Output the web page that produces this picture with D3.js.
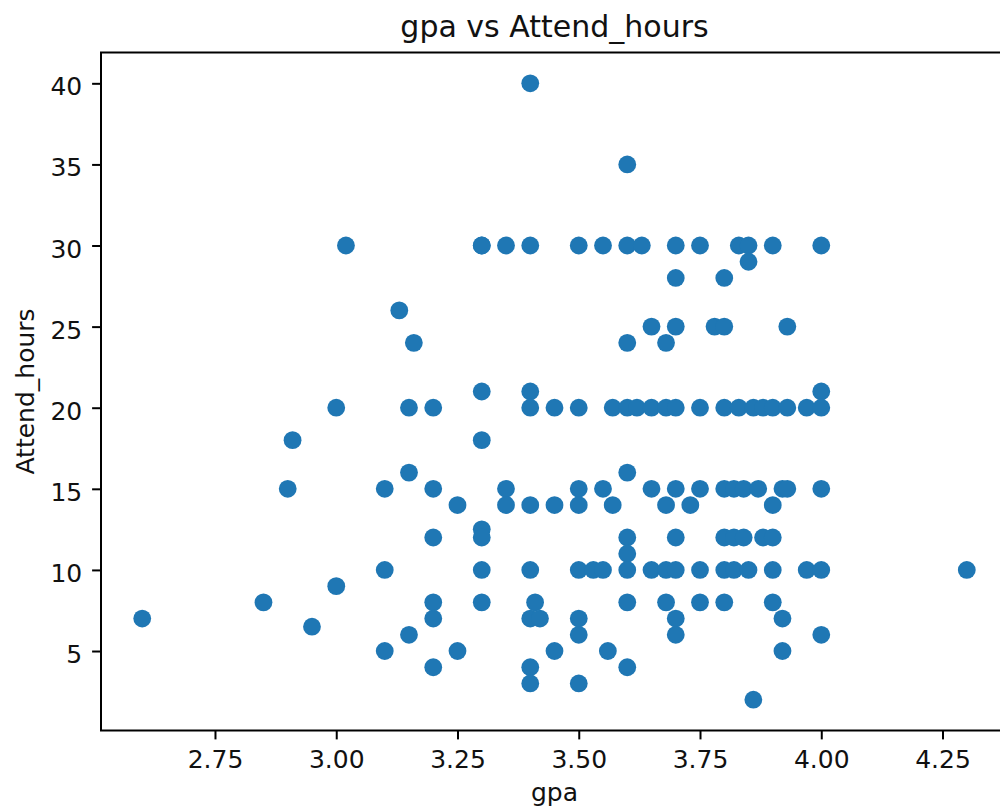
<!DOCTYPE html>
<html>
<head>
<meta charset="utf-8">
<script src="https://cdn.jsdelivr.net/npm/d3@7"></script>
<style>
  html, body { margin: 0; padding: 0; background: #fff; }
  svg { display: block; overflow: hidden; }
  text { font-family: "DejaVu Sans", sans-serif; fill: #111; }
</style>
</head>
<body>
<div id="chart"></div>
<script>
// Student GPA against hours attended
const gpa = [
  2.6, 2.85, 2.9, 2.91, 2.95, 3.0, 3.0, 3.02, 3.1, 3.1, 3.1, 3.13, 3.15, 3.15, 3.15, 3.16,
  3.2, 3.2, 3.2, 3.2, 3.2, 3.2, 3.25, 3.25,
  3.3, 3.3, 3.3, 3.3, 3.3, 3.3, 3.3, 3.3, 3.35, 3.35, 3.35,
  3.4, 3.4, 3.4, 3.4, 3.4, 3.4, 3.4, 3.41, 3.42, 3.4, 3.4, 3.45, 3.45, 3.45,
  3.5, 3.5, 3.5, 3.5, 3.5, 3.53, 3.55, 3.5, 3.5, 3.5, 3.55, 3.55, 3.56, 3.57, 3.57,
  3.6, 3.6, 3.6, 3.6, 3.6, 3.6, 3.6, 3.6, 3.6, 3.6, 3.62, 3.63,
  3.65, 3.65, 3.65, 3.65, 3.68, 3.68, 3.68, 3.68, 3.68,
  3.7, 3.7, 3.7, 3.7, 3.7, 3.7, 3.7, 3.7, 3.7, 3.73,
  3.75, 3.75, 3.75, 3.75, 3.75, 3.78,
  3.8, 3.8, 3.8, 3.8, 3.8, 3.8, 3.8, 3.82, 3.82, 3.82, 3.83, 3.83, 3.84, 3.84,
  3.85, 3.85, 3.85, 3.86, 3.86, 3.87, 3.88, 3.88,
  3.9, 3.9, 3.9, 3.9, 3.9, 3.9, 3.92, 3.93, 3.92, 3.92, 3.93, 3.93, 3.97, 3.97,
  4.0, 4.0, 4.0, 4.0, 4.0, 4.0, 4.3
];
const attendHours = [
  7, 8, 15, 18, 6.5, 20, 9, 30, 15, 10, 5, 26, 20, 16, 6, 24,
  20, 15, 12, 8, 7, 4, 14, 5,
  30, 30, 21, 18, 12.5, 12, 10, 8, 30, 15, 14,
  40, 30, 21, 20, 14, 10, 7, 8, 7, 4, 3, 20, 14, 5,
  30, 20, 15, 14, 10, 10, 10, 7, 6, 3, 30, 15, 5, 20, 14,
  35, 30, 24, 20, 16, 12, 11, 10, 8, 4, 20, 30,
  25, 20, 15, 10, 24, 20, 14, 10, 8,
  30, 28, 25, 20, 15, 12, 10, 7, 6, 14,
  30, 20, 15, 10, 8, 25,
  28, 25, 20, 15, 12, 10, 8, 15, 12, 10, 30, 20, 15, 12,
  30, 29, 10, 20, 2, 15, 20, 12,
  30, 20, 14, 12, 10, 8, 15, 15, 7, 5, 25, 20, 20, 10,
  30, 21, 20, 15, 10, 6, 10
];
const xTicks = [2.75, 3.0, 3.25, 3.5, 3.75, 4.0, 4.25];
const yTicks = [5, 10, 15, 20, 25, 30, 35, 40];

const W = 1000, H = 808;
const plot = { left: 101, right: 1008, top: 52.5, bottom: 730.5 };

const points = gpa.map((g, i) => ({ g, h: attendHours[i] }));

// 5% padding on each side of the data extent
function padded(ext) {
  const span = ext[1] - ext[0];
  return [ext[0] - span * 0.05, ext[1] + span * 0.05];
}

const x = d3.scaleLinear().domain(padded(d3.extent(gpa))).range([plot.left, plot.right]);
const y = d3.scaleLinear().domain(padded(d3.extent(attendHours))).range([plot.bottom, plot.top]);

const svg = d3.select("#chart").append("svg").attr("width", W).attr("height", H);

// markers
svg.append("g")
  .selectAll("circle")
  .data(points)
  .join("circle")
  .attr("cx", d => x(d.g))
  .attr("cy", d => y(d.h))
  .attr("r", 8.9)
  .attr("fill", "#1f77b4");

// frame
svg.append("rect")
  .attr("x", plot.left).attr("y", plot.top)
  .attr("width", plot.right - plot.left).attr("height", plot.bottom - plot.top)
  .attr("fill", "none").attr("stroke", "#000").attr("stroke-width", 2);

const tickLen = 8.9, pad = 8.9, fs = 25;

// x axis
const xAxis = d3.axisBottom(x).tickValues(xTicks).tickFormat(d3.format(".2f"))
  .tickSize(tickLen).tickPadding(pad);
const gx = svg.append("g").attr("transform", `translate(0,${plot.bottom})`).call(xAxis);
gx.select(".domain").remove();
gx.selectAll(".tick line").attr("stroke", "#000").attr("stroke-width", 2);
gx.selectAll(".tick text")
  .attr("font-size", fs).attr("font-family", "DejaVu Sans, sans-serif")
  .attr("fill", "#111").attr("dy", null).attr("y", 37.5);

// y axis
const yAxis = d3.axisLeft(y).tickValues(yTicks).tickFormat(d3.format("d"))
  .tickSize(tickLen).tickPadding(pad);
const gy = svg.append("g").attr("transform", `translate(${plot.left},0)`).call(yAxis);
gy.select(".domain").remove();
gy.selectAll(".tick line").attr("stroke", "#000").attr("stroke-width", 2);
gy.selectAll(".tick text")
  .attr("font-size", fs).attr("font-family", "DejaVu Sans, sans-serif")
  .attr("fill", "#111").attr("dy", null).attr("y", 11.5).attr("x", -(tickLen + pad) - 1);

// axis labels and title
const midX = (plot.left + plot.right) / 2;
const midY = (plot.top + plot.bottom) / 2;

svg.append("text")
  .attr("x", midX).attr("y", 801)
  .attr("text-anchor", "middle").attr("font-size", fs)
  .text("gpa");

svg.append("text")
  .attr("transform", `translate(34,${midY}) rotate(-90)`)
  .attr("text-anchor", "middle").attr("font-size", fs)
  .text("Attend_hours");

svg.append("text")
  .attr("x", midX).attr("y", 37)
  .attr("text-anchor", "middle").attr("font-size", 30)
  .text("gpa vs Attend_hours");
</script>
</body>
</html>
